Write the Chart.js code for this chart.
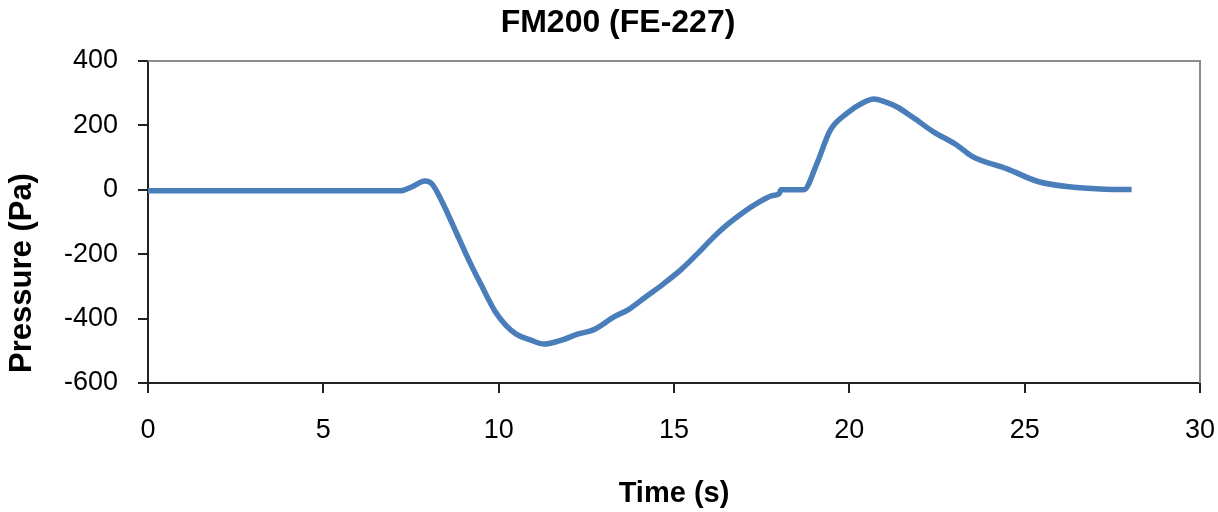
<!DOCTYPE html>
<html>
<head>
<meta charset="utf-8">
<script src="https://cdn.jsdelivr.net/npm/chart.js@4.4.0/dist/chart.umd.min.js"></script>
<style>
  html, body { margin: 0; padding: 0; background: #fff; }
  #wrap { width: 1218px; height: 512px; }
</style>
</head>
<body>
<div id="wrap"><canvas id="pressure"></canvas></div>
<script>
// time (s) and pressure (Pa)
var timeS = [0, 7.2, 7.5, 7.9, 8.1, 8.4, 8.8, 9.2, 9.5, 9.9, 10.2, 10.5, 10.9, 11.3, 11.7,
    12.3, 12.7, 13.3, 13.7, 14.2, 14.7, 15.2, 15.7, 16.1, 16.5, 17.0, 17.4, 17.8, 18.0,
    18.05, 18.7, 19.07, 19.45, 19.9, 20.4, 20.7, 21.0, 21.35, 21.8, 22.4, 23.05, 23.5,
    24.5, 25.4, 26.4, 27.3, 28.05];
var pressurePa = [-3, -3, 8, 27, 18, -40, -135, -230, -295, -378, -420, -448, -466, -479, -470,
    -447, -435, -394, -372, -332, -292, -248, -195, -150, -110, -68, -40, -18, -12,
    0, 0, 80, 184, 235, 271, 282, 274, 258, 226, 180, 140, 104,
    65, 25, 8, 2, 1];
var xTicks = [0, 5, 10, 15, 20, 25, 30];
var yTicks = [-600, -400, -200, 0, 200, 400];

var FONT = "'Liberation Sans', Arial, sans-serif";

var points = timeS.map(function (t, i) { return {x: t, y: pressurePa[i]}; });

// grey top/right frame + off-centre y title like the original
var framePlugin = {
    id: 'frame',
    afterDraw: function (chart) {
        var ctx = chart.ctx, a = chart.chartArea;
        ctx.save();
        ctx.strokeStyle = '#8c8c8c';
        ctx.lineWidth = 2;
        ctx.beginPath();
        ctx.moveTo(a.left, a.top);
        ctx.lineTo(a.right, a.top);
        ctx.lineTo(a.right, a.bottom);
        ctx.stroke();

        ctx.fillStyle = '#000';
        ctx.font = 'bold 31px ' + FONT;
        ctx.textAlign = 'center';
        ctx.textBaseline = 'middle';
        ctx.translate(22, 273);
        ctx.rotate(-Math.PI / 2);
        ctx.fillText('Pressure (Pa)', 0, 0);
        ctx.restore();
    }
};

new Chart(document.getElementById('pressure'), {
    type: 'line',
    data: {
        datasets: [{
            label: 'FM200 (FE-227)',
            data: points,
            borderColor: '#4a7ebb',
            borderWidth: 5.5,
            pointRadius: 0,
            cubicInterpolationMode: 'monotone',
            fill: false
        }]
    },
    options: {
        responsive: true,
        maintainAspectRatio: false,
        animation: false,
        layout: { padding: { left: 36, right: 18, top: 0, bottom: 0 } },
        plugins: {
            legend: { display: false },
            tooltip: { enabled: false },
            title: {
                display: true,
                text: 'FM200 (FE-227)',
                color: '#000',
                font: { family: FONT, size: 32, weight: 'bold' },
                padding: { top: 4, bottom: 18.6 }
            }
        },
        scales: {
            x: {
                type: 'linear',
                min: 0,
                max: 30,
                afterBuildTicks: function (s) { s.ticks = xTicks.map(function (v) { return {value: v}; }); },
                afterFit: function (s) { s.height = 129; s.paddingLeft = 0; s.paddingRight = 0; },
                grid: { drawOnChartArea: false, drawTicks: true, tickLength: 10, color: '#222', lineWidth: 2 },
                border: { color: '#222', width: 2 },
                ticks: { color: '#000', font: { family: FONT, size: 27 }, padding: 21, maxRotation: 0 },
                title: {
                    display: true,
                    text: 'Time (s)',
                    color: '#000',
                    font: { family: FONT, size: 29, weight: 'bold' },
                    padding: { top: 0, bottom: 1 }
                }
            },
            y: {
                min: -600,
                max: 400,
                afterBuildTicks: function (s) { s.ticks = yTicks.map(function (v) { return {value: v}; }); },
                afterFit: function (s) { s.width = 112; },
                grid: { drawOnChartArea: false, drawTicks: true, tickLength: 10, color: '#222', lineWidth: 2 },
                border: { color: '#222', width: 2 },
                ticks: { color: '#000', font: { family: FONT, size: 27 }, padding: 20 }
            }
        }
    },
    plugins: [framePlugin]
});
</script>
</body>
</html>
